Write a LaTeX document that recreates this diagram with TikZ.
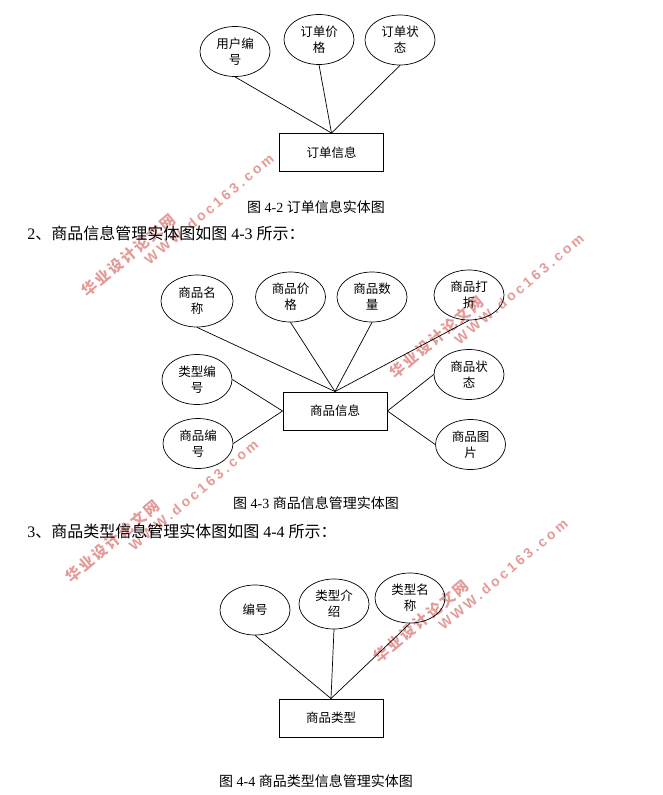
\documentclass[tikz,border=0pt]{standalone}
\usepackage{fontspec}
\usetikzlibrary{shapes.geometric}
\setmainfont{Liberation Serif}
\newfontfamily\cjk{Noto Sans CJK SC}
\newfontfamily\wmfont[LetterSpace=22]{Liberation Sans}
\newfontfamily\wmcjk[LetterSpace=14]{Noto Sans CJK SC}
\definecolor{wmred}{RGB}{228,155,152}
\begin{document}
\begin{tikzpicture}[x=1pt,y=-1pt,line width=0.7pt,
  attr node/.style={ellipse,draw,inner sep=0pt,minimum width=70pt,minimum height=50pt,
    align=center,font=\cjk\fontsize{12.5}{16}\selectfont},
  entity node/.style={rectangle,draw,line width=0.9pt,minimum width=104pt,minimum height=38pt,
    font=\cjk\fontsize{12.5}{16}\selectfont},
  caption node/.style={font=\fontsize{14}{16}\selectfont,inner sep=0pt},
  section node/.style={font=\fontsize{16}{18}\selectfont,inner sep=0pt,anchor=west},
  wm cn/.style={rotate=40,text=wmred,font=\wmcjk\bfseries\fontsize{15}{16}\selectfont,inner sep=0pt},
  wm en/.style={rotate=40,text=wmred,font=\wmfont\bfseries\fontsize{14}{16}\selectfont,inner sep=0pt}]
  \useasboundingbox (0,0) rectangle (663,795);

  % watermarks
  \node[wm cn] (wa1) at (128.5,255) {华业设计论文网};
  \node[wm en] (wa2) at (209,209) {WWW.doc163.com};
  \node[wm cn] (wb1) at (436.5,337.5) {华业设计论文网};
  \node[wm en] (wb2) at (519,289) {WWW.doc163.com};
  \node[wm cn] (wc1) at (112.5,541) {华业设计论文网};
  \node[wm en] (wc2) at (193.5,495) {WWW.doc163.com};
  \node[wm cn] (wd1) at (421,621.5) {华业设计论文网};
  \node[wm en] (wd2) at (503,574.5) {WWW.doc163.com};

  % order entity
  \node[attr node] (userid) at (235,51.5) {用户编\\号};
  \node[attr node] (oprice) at (319,39.5) {订单价\\格};
  \node[attr node] (ostate) at (400,40) {订单状\\态};
  \node[entity node] (order) at (331.5,152.5) {订单信息};
  \path (userid.south) edge (order.north)
        (oprice.south) edge (order.north)
        (ostate.south) edge (order.north);

  \node[caption node] (cap2) at (316,207) {{\cjk 图} 4-2 {\cjk 订单信息实体图}};
  \node[section node] (sec2) at (27,233) {2{\cjk 、商品信息管理实体图如图} 4-3 {\cjk 所示：}};

  % goods entity
  \node[attr node,minimum width=72pt,minimum height=52pt] (gname) at (197,301) {商品名\\称};
  \node[attr node] (gprice) at (290.5,297) {商品价\\格};
  \node[attr node] (gcount) at (372,297) {商品数\\量};
  \node[attr node] (gdisc) at (469,295) {商品打\\折};
  \node[attr node] (gtype) at (197,379.5) {类型编\\号};
  \node[attr node] (gid) at (198,443.5) {商品编\\号};
  \node[attr node] (gstate) at (469,374.5) {商品状\\态};
  \node[attr node] (gpic) at (470.5,444.5) {商品图\\片};
  \node[entity node] (goods) at (335,411) {商品信息};
  \path (gname.south) edge (goods.north)
        (gprice.south) edge (goods.north)
        (gcount.south) edge (goods.north)
        (gdisc.south) edge (goods.north)
        (gtype.east) edge (goods.west)
        (gid.east) edge (goods.west)
        (gstate.west) edge (goods.east)
        (gpic.west) edge (goods.east);

  \node[caption node] (cap3) at (316,503) {{\cjk 图} 4-3 {\cjk 商品信息管理实体图}};
  \node[section node] (sec3) at (27,531) {3{\cjk 、商品类型信息管理实体图如图} 4-4 {\cjk 所示：}};

  % goods type entity
  \node[attr node] (tid) at (255,610) {编号};
  \node[attr node] (tinfo) at (334,604) {类型介\\绍};
  \node[attr node] (tname) at (410,598) {类型名\\称};
  \node[entity node] (gtypes) at (331,718) {商品类型};
  \path (tid.south) edge (gtypes.north)
        (tinfo.south) edge (gtypes.north)
        (tname.south) edge (gtypes.north);

  \node[caption node] (cap4) at (316,781) {{\cjk 图} 4-4 {\cjk 商品类型信息管理实体图}};
\end{tikzpicture}
\end{document}
